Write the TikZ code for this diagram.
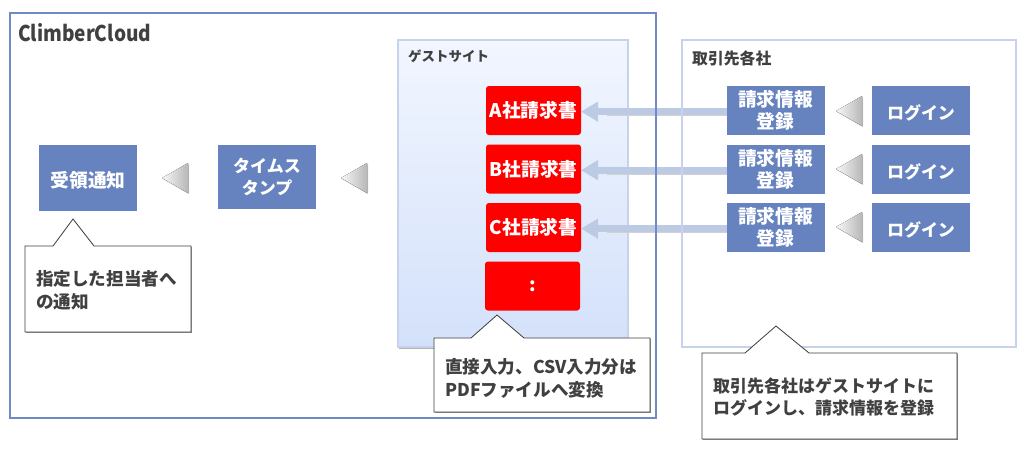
\documentclass[tikz,border=0pt]{standalone}
\usepackage{fontspec}
\setmainfont{Noto Sans CJK JP}
\usepackage{xcolor}
\usepackage{tikz}
\usetikzlibrary{
	arrows.meta,    % Per le frecce azzurre
	shadows         % Per le ombre
}
\definecolor{boxblue}{HTML}{6683BF}
\definecolor{framedark}{HTML}{6F8AC4}
\definecolor{framelight}{HTML}{C6D3EA}
\definecolor{arrowblue}{HTML}{BDCAE3}
\definecolor{notegray}{HTML}{404040}
\definecolor{guesttop}{HTML}{F2F6FF}
\definecolor{guestbottom}{HTML}{D3E1FA}

\begin{document}
\begin{tikzpicture}[
		x=0.03cm, y=-0.03cm,
		stepbox/.style={fill=boxblue, text=white, font=\fontsize{16}{19}\selectfont\bfseries, minimum width=98*0.03cm, minimum height=49*0.03cm, inner sep=0pt, outer sep=0pt, align=center, execute at begin node={\rule{0pt}{17pt}}},
		kanabox/.style={stepbox, font=\fontsize{14.5}{19}\selectfont\bfseries},
		invoicebox/.style={fill=red, rounded corners=2.5pt, text=white, font=\fontsize{16}{18}\selectfont\bfseries, minimum width=95*0.03cm, minimum height=49*0.03cm, inner sep=0pt, outer sep=0pt},
		flowline/.style={-{Triangle[length=17*0.03cm, width=19*0.03cm]}, line width=7*0.03cm, color=arrowblue},
		flowshadow/.style={line width=1.5pt, color=black!18, shorten >=22pt},
		flowmark/.style={left color=black!3, right color=black!28, draw=none, drop shadow={shadow xshift=1pt, shadow yshift=-1pt, fill=black, opacity=0.2}},
		notebox/.style={draw=notegray, line width=0.7pt, fill=white, drop shadow={shadow xshift=0.7pt, shadow yshift=-0.7pt, fill=black, opacity=0.45}},
		notelabel/.style={text=notegray, font=\fontsize{15}{19.5}\selectfont\bfseries, align=left, anchor=west, inner sep=0pt},
		titlelabel/.style={text=notegray, font=\fontsize{11.5}{14}\selectfont\bfseries, anchor=west, inner sep=0pt}
	]
	
	% --- Margini ---
	\useasboundingbox (0,0) rectangle (1022,449);
	\fill[white] (0,0) rectangle (1022,449);
	
	% --- Sito ospite ---
	\draw[draw=framelight, line width=1.5pt, top color=guesttop, bottom color=guestbottom, drop shadow={shadow xshift=1pt, shadow yshift=-2pt, fill=black, opacity=0.3}] (398,40) rectangle (628,347);
	\node[titlelabel] (guesttitle) at (408,56) {ゲストサイト};
	
	\node[invoicebox] (invoiceA) at (533.5,110.5) {A社請求書};
	\node[invoicebox] (invoiceB) at (533.5,169) {B社請求書};
	\node[invoicebox] (invoiceC) at (533.5,227.5) {C社請求書};
	\node[invoicebox] (invoiceD) at (532.5,286) {:};
	
	% --- Fornitori ---
	\node[stepbox] (infoA) at (775.5,110.5) {請求情報\\登録};
	\node[stepbox] (infoB) at (775.5,169) {請求情報\\登録};
	\node[stepbox] (infoC) at (775.5,227.5) {請求情報\\登録};
	\node[kanabox] (loginA) at (921,110.5) {ログイン};
	\node[kanabox] (loginB) at (921,169) {ログイン};
	\node[kanabox] (loginC) at (921,227.5) {ログイン};
	
	% Frecce verso le fatture
	\draw[flowshadow] ([yshift=-4.2pt]infoA.west) -- ([yshift=-4.2pt]invoiceA.east);
	\draw[flowshadow] ([yshift=-4.2pt]infoB.west) -- ([yshift=-4.2pt]invoiceB.east);
	\draw[flowshadow] ([yshift=-4.2pt]infoC.west) -- ([yshift=-4.2pt]invoiceC.east);
	\draw[flowline] ([yshift=-1pt]infoA.west) -- ([yshift=-1pt]invoiceA.east);
	\draw[flowline] ([yshift=-1pt]infoB.west) -- ([yshift=-1pt]invoiceB.east);
	\draw[flowline] ([yshift=-1pt]infoC.west) -- ([yshift=-1pt]invoiceC.east);
	
	% Triangoli tra i passi
	\fill[flowmark] (836,111) -- (862,96) -- (862,126) -- cycle;
	\fill[flowmark] (836,169) -- (862,154) -- (862,184) -- cycle;
	\fill[flowmark] (836,227) -- (862,212) -- (862,242) -- cycle;
	
	% --- Riquadri esterni ---
	\draw[draw=framedark, line width=2pt] (10,13) rectangle (656,418);
	\draw[draw=framelight, line width=2pt] (682,40) rectangle (1016,347);
	\node[text=notegray, font=\fontsize{18.5}{20}\selectfont\bfseries, anchor=west, inner sep=0pt] (cloudtitle) at (18,33) {\scalebox{0.88}[1]{ClimberCloud}};
	\node[titlelabel, font=\fontsize{13.5}{16}\selectfont\bfseries] (partnertitle) at (692,58) {取引先各社};
	
	% --- Parte sinistra ---
	\node[stepbox, minimum height=66*0.03cm] (receipt) at (88,178) {受領通知};
	\node[kanabox, minimum height=64*0.03cm] (stamp) at (267,177) {タイムス\\タンプ};
	\fill[flowmark] (162,178) -- (188,163) -- (188,193) -- cycle;
	\fill[flowmark] (341,178) -- (367,163) -- (367,193) -- cycle;
	
	% --- Fumetti ---
	\draw[notebox] (25,246) -- (53,246) -- (73,219) -- (94,246) -- (191,246) -- (191,332) -- (25,332) -- cycle;
	\node[notelabel] (notereceipt) at (36,290) {指定した担当者へ\\の通知};
	
	\draw[notebox] (434,338) -- (471,338) -- (497,315) -- (524,338) -- (650,338) -- (650,412) -- (434,412) -- cycle;
	\node[notelabel] (noteguest) at (445,378) {直接入力、CSV入力分は\\PDFファイルへ変換};
	
	\draw[notebox] (702,353) -- (745,353) -- (776,326) -- (809,353) -- (957,353) -- (957,439) -- (702,439) -- cycle;
	\node[notelabel, font=\fontsize{14.5}{19.5}\selectfont\bfseries] (notepartner) at (713,397) {取引先各社はゲストサイトに\\ログインし、請求情報を登録};
\end{tikzpicture}
\end{document}
